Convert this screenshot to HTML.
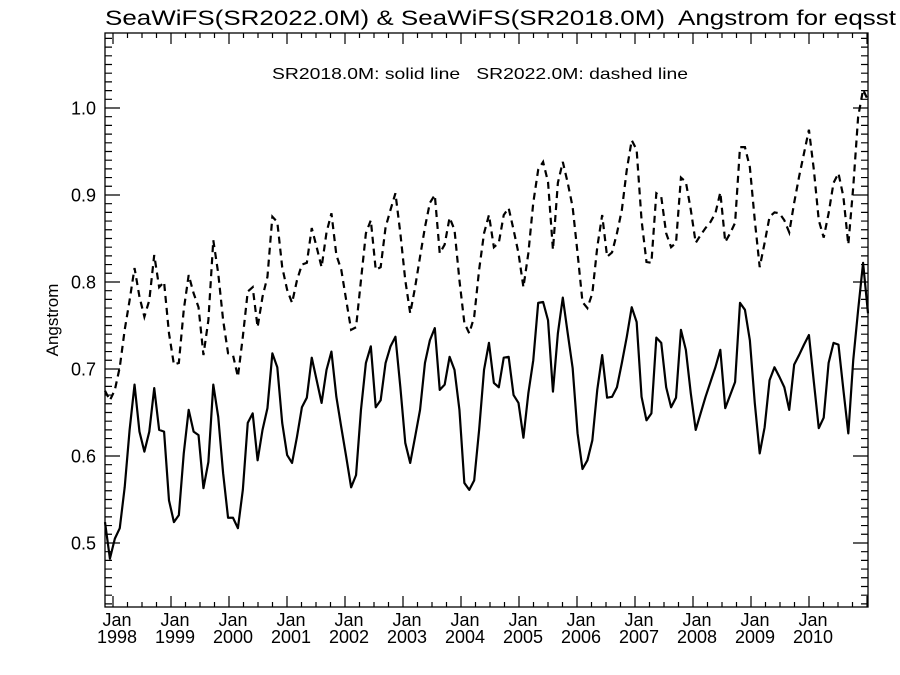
<!DOCTYPE html>
<html><head><meta charset="utf-8"><style>
html,body{margin:0;padding:0;background:#fff;}
svg{display:block;font-family:"Liberation Sans",Arial,sans-serif;}
.pre{white-space:pre;}
</style></head><body>
<svg id="chart" width="900" height="675" viewBox="0 0 900 675" xmlns="http://www.w3.org/2000/svg">
<rect x="0" y="0" width="900" height="675" fill="#fff"/>
<text class="pre" x="105" y="25" font-size="21" textLength="791" lengthAdjust="spacingAndGlyphs">SeaWiFS(SR2022.0M) &amp; SeaWiFS(SR2018.0M)  Angstrom for eqsst</text>
<text class="pre" x="272" y="79" font-size="16" textLength="416" lengthAdjust="spacingAndGlyphs">SR2018.0M: solid line   SR2022.0M: dashed line</text>
<text transform="translate(58,320) rotate(-90)" text-anchor="middle" font-size="17">Angstrom</text>
<g id="axes"></g>
<g id="series"></g>
</svg>
<script>
const yTickValues = [0.5, 0.6, 0.7, 0.8, 0.9, 1.0];
const yTickLabels = ["0.5", "0.6", "0.7", "0.8", "0.9", "1.0"];
const xTickYears = [1998, 1999, 2000, 2001, 2002, 2003, 2004, 2005, 2006, 2007, 2008, 2009, 2010];
const sr2018Solid = [
.524,.482,.505,.517,.564,.630,.682,.628,.605,.628,.678,.630,.628,.549,.524,.532,.603,.653,.628,.624,.563,.593,.682,.645,.580,.529,
.529,.517,.561,.638,.649,.595,.630,.655,.718,.702,.638,.601,.592,.622,.656,.667,.713,.687,.661,.699,.720,.668,.633,.599,.564,.578,.653,
.707,.726,.656,.664,.707,.726,.737,.679,.615,.592,.622,.653,.707,.733,.747,.676,.682,.714,.699,.653,.569,.561,.572,.630,.699,.730,
.684,.679,.713,.714,.670,.661,.621,.672,.710,.776,.777,.756,.674,.741,.782,.741,.701,.626,.585,.595,.618,.676,.716,.667,.668,.679,
.707,.737,.771,.754,.668,.641,.649,.736,.730,.679,.656,.667,.745,.722,.672,.630,.649,.668,.685,.702,.722,.655,.670,.685,.776,.768,.733,.661,
.603,.633,.687,.702,.691,.679,.653,.705,.716,.728,.739,.685,.632,.644,.707,.730,.728,.676,.626,.710,.768,.822,.764];
const sr2022Dashed = [
.675,.664,.676,.702,.745,.779,.816,.783,.760,.779,.831,.794,.800,.741,.705,.707,.768,.808,.787,.771,.716,.756,.848,.810,.756,.718,
.716,.691,.737,.789,.794,.748,.783,.806,.875,.869,.817,.791,.776,.802,.820,.822,.862,.840,.817,.857,.879,.831,.814,.779,.745,.748,.802,
.856,.871,.814,.817,.863,.883,.902,.856,.802,.764,.794,.829,.863,.891,.900,.833,.843,.874,.860,.802,.753,.741,.760,.814,.856,.877,
.840,.845,.877,.885,.860,.833,.794,.833,.891,.929,.938,.915,.837,.914,.938,.914,.886,.833,.777,.770,.787,.840,.877,.829,.834,.856,
.883,.929,.963,.952,.871,.823,.822,.902,.898,.856,.840,.845,.920,.915,.883,.845,.854,.862,.869,.879,.903,.846,.856,.868,.955,.955,.932,.871,
.817,.845,.875,.880,.879,.871,.857,.891,.921,.948,.975,.929,.871,.851,.879,.914,.925,.898,.843,.909,.990,1.021,1.009];

const NS = "http://www.w3.org/2000/svg";
const L = 105, R = 868, T = 33, B = 607;
const yMin = 0.4264, yMax = 1.0862;
function yScale(v) { return B - (v - yMin) / (yMax - yMin) * (B - T); }
function xIndex(i, n) { return L + i * (R - L) / (n - 1); }
function xMonth(t) { return 113 + t * 58 / 12; }
function mk(tag, attrs, parent) {
  const e = document.createElementNS(NS, tag);
  for (const k in attrs) e.setAttribute(k, attrs[k]);
  parent.appendChild(e);
  return e;
}
const axes = document.getElementById('axes');
const frame = mk('rect', {x: L, y: T, width: R - L, height: B - T, fill: 'none', stroke: '#000', 'stroke-width': 1.3}, axes);



for (let k = 43; k <= 108; k++) {
  const v = k / 100;
  const y = yScale(v);
  const major = (k % 10 === 0);
  const len = major ? 15 : 7;
  const tk = mk('path', {d: `M${L},${y}h${len}M${R},${y}h${-len}`, stroke: '#000', 'stroke-width': 1.2}, axes);
  
  
}
yTickValues.forEach((v, i) => {
  const t = mk('text', {x: L - 9, y: yScale(v) + 6.5, 'text-anchor': 'end', 'font-size': 18}, axes);
  t.textContent = yTickLabels[i];
  
  
});
for (let t = 0; t <= 156; t += 3) {
  const x = xMonth(t);
  if (x < L || x > R) continue;
  const major = (t % 12 === 0);
  const len = major ? 11 : 5;
  const tk = mk('path', {d: `M${x},${B}v${-len}M${x},${T}v${len}`, stroke: '#000', 'stroke-width': 1.2}, axes);
  
  
}
xTickYears.forEach((yr) => {
  const x = xMonth((yr - 1998) * 12) + 4;
  const a = mk('text', {x: x, y: 626, 'text-anchor': 'middle', 'font-size': 18}, axes);
  a.textContent = 'Jan';
  
  
  const b = mk('text', {x: x, y: 643, 'text-anchor': 'middle', 'font-size': 18}, axes);
  b.textContent = String(yr);
  
  
});
const series = document.getElementById('series');
function linePath(arr) {
  return arr.map((v, i) => (i ? 'L' : 'M') + xIndex(i, arr.length).toFixed(2) + ',' + yScale(v).toFixed(2)).join('');
}
const s1 = mk('path', {d: linePath(sr2018Solid), fill: 'none', stroke: '#000', 'stroke-width': 2.2, 'stroke-linejoin': 'round'}, series);


const s2 = mk('path', {d: linePath(sr2022Dashed), fill: 'none', stroke: '#000', 'stroke-width': 2.2, 'stroke-dasharray': '7,5'}, series);


</script>
</body></html>
